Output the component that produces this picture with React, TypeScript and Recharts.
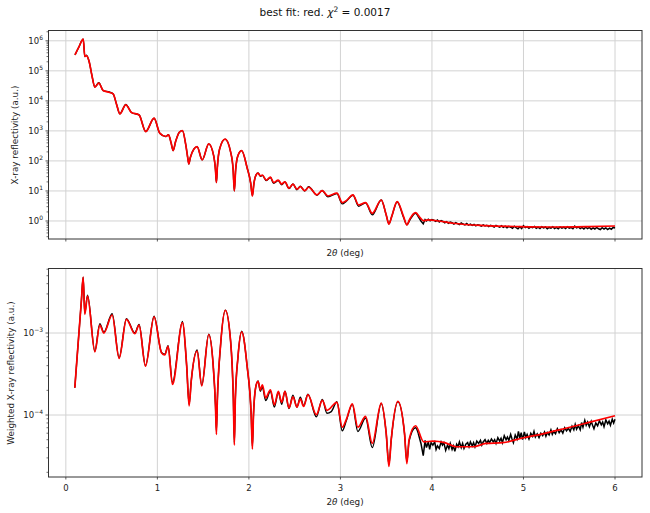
import React from 'react';
import { LineChart, Line, XAxis, YAxis, CartesianGrid } from 'recharts';

const FONT = '"DejaVu Sans", Verdana, sans-serif';
const PLOT_LEFT = 48;
const NOISE_START = 3.85;

// shared x axis (2theta, deg)
const xTicks = [0, 1, 2, 3, 4, 5, 6];
const xDomain = [-0.195, 6.295];

// log axes
const topMajorTicks = [1, 10, 100, 1e3, 1e4, 1e5, 1e6];
const topDecades = [0.1, 1, 10, 100, 1e3, 1e4, 1e5, 1e6];
const topDomain = [0.251, 2.29e6];
const bottomMajorTicks = [1e-4, 1e-3];
const bottomDecades = [1e-5, 1e-4, 1e-3];
const bottomDomain = [1.754e-5, 6.21e-3];
const minorSteps = [2, 3, 4, 5, 6, 7, 8, 9];

// top panel: reflectivity, fit (red)
const topFit: [number, number][] = [
  [0.1, 3.4e5], [0.14, 6.0e5], [0.19, 1.14e6], [0.207, 3.0e5], [0.225, 3.2e5], [0.255, 2.0e5],
  [0.285, 7.0e4], [0.317, 2.86e4], [0.36, 3.9e4], [0.408, 2.2e4], [0.48, 1.9e4], [0.517, 1.7e4],
  [0.555, 7.5e3], [0.59, 3.7e3], [0.655, 7.4e3], [0.717, 4.1e3], [0.8, 3.4e3], [0.873, 950],
  [0.964, 2650], [1.026, 840], [1.092, 650], [1.121, 740], [1.15, 400], [1.172, 220], [1.2, 450],
  [1.24, 900], [1.274, 1020], [1.31, 350], [1.335, 110], [1.343, 79], [1.36, 130], [1.4, 250],
  [1.434, 300], [1.49, 108], [1.561, 370], [1.615, 150], [1.635, 50], [1.645, 19], [1.655, 60],
  [1.68, 250], [1.74, 530], [1.8, 200], [1.828, 50], [1.841, 10], [1.855, 50], [1.88, 150],
  [1.921, 220], [1.98, 60], [2.02, 18], [2.038, 6.8], [2.055, 18], [2.08, 35], [2.1, 39],
  [2.125, 32], [2.147, 34], [2.19, 23], [2.235, 29], [2.27, 19], [2.32, 23], [2.358, 17],
  [2.394, 20], [2.438, 12.3], [2.481, 17], [2.525, 11.4], [2.562, 13.9], [2.61, 10.2],
  [2.653, 13.3], [2.744, 7.4], [2.8, 10.2], [2.864, 6.8], [2.962, 8.4], [3.02, 4.1], [3.064, 4.75],
  [3.137, 7.4], [3.2, 3.4], [3.275, 4.1], [3.348, 1.8], [3.446, 5.0], [3.5, 1.6], [3.53, 0.79],
  [3.56, 1.4], [3.62, 4.4], [3.69, 1.4], [3.726, 0.74], [3.76, 1.2], [3.821, 1.9], [3.87, 1.3],
  [3.908, 1.02], [3.955, 1.08], [4.075, 1.0], [4.23, 0.84], [4.59, 0.7], [4.96, 0.65],
  [5.32, 0.63], [5.7, 0.65], [6.0, 0.68],
];

// top panel: measured data (black)
const topData: [number, number][] = [
  [0.1, 3.4e5], [0.14, 6.0e5], [0.19, 1.14e6], [0.207, 3.0e5], [0.225, 3.3e5], [0.255, 2.0e5],
  [0.285, 7.0e4], [0.317, 2.9e4], [0.36, 4.0e4], [0.408, 2.2e4], [0.48, 1.95e4], [0.517, 1.7e4],
  [0.555, 7.5e3], [0.59, 3.7e3], [0.655, 7.6e3], [0.717, 4.1e3], [0.8, 3.4e3], [0.873, 950],
  [0.964, 2650], [1.026, 840], [1.092, 650], [1.121, 740], [1.15, 400], [1.172, 220], [1.2, 450],
  [1.24, 900], [1.274, 1020], [1.31, 350], [1.335, 110], [1.343, 79], [1.36, 130], [1.4, 250],
  [1.434, 300], [1.49, 108], [1.561, 370], [1.615, 150], [1.635, 50], [1.645, 19], [1.655, 60],
  [1.68, 250], [1.74, 530], [1.8, 200], [1.828, 50], [1.841, 10], [1.855, 50], [1.88, 150],
  [1.921, 220], [1.98, 60], [2.02, 18], [2.038, 7.0], [2.055, 18], [2.08, 35], [2.1, 40],
  [2.125, 31], [2.147, 33], [2.19, 22], [2.235, 28], [2.27, 18], [2.32, 22], [2.358, 16],
  [2.394, 20], [2.438, 12], [2.481, 17], [2.525, 11], [2.562, 14.5], [2.61, 10], [2.653, 13.8],
  [2.744, 7.2], [2.8, 10.4], [2.864, 6.4], [2.962, 8.2], [3.02, 3.7], [3.064, 4.6], [3.137, 7.2],
  [3.2, 3.1], [3.275, 4.0], [3.348, 1.6], [3.446, 5.0], [3.5, 1.6], [3.53, 0.8], [3.56, 1.4],
  [3.62, 4.3], [3.69, 1.3], [3.726, 0.75], [3.76, 1.1], [3.821, 1.8], [3.85, 1.4], [3.88, 1.0],
  [3.905, 0.8], [3.925, 1.12], [3.94, 1.0], [3.96, 1.14], [3.98, 1.02], [4.0, 1.12], [4.02, 1.06],
  [4.04, 0.97], [4.06, 1.07], [4.08, 0.93], [4.1, 1.02], [4.12, 0.96], [4.14, 0.87], [4.16, 0.95],
  [4.18, 0.84], [4.2, 0.92], [4.22, 0.87], [4.24, 0.79], [4.26, 0.88], [4.28, 0.82], [4.3, 0.76],
  [4.32, 0.86], [4.34, 0.79], [4.36, 0.74], [4.38, 0.82], [4.4, 0.73], [4.42, 0.79], [4.44, 0.71],
  [4.46, 0.77], [4.48, 0.69], [4.5, 0.75], [4.52, 0.72], [4.54, 0.67], [4.56, 0.74], [4.58, 0.68],
  [4.6, 0.72], [4.62, 0.65], [4.64, 0.71], [4.66, 0.68], [4.68, 0.63], [4.7, 0.71], [4.72, 0.66],
  [4.74, 0.62], [4.76, 0.69], [4.78, 0.61], [4.8, 0.67], [4.82, 0.59], [4.84, 0.66], [4.86, 0.62],
  [4.88, 0.57], [4.9, 0.67], [4.92, 0.6], [4.94, 0.55], [4.96, 0.64], [4.98, 0.56], [5.0, 0.7],
  [5.02, 0.6], [5.04, 0.65], [5.06, 0.57], [5.08, 0.63], [5.1, 0.6], [5.12, 0.66], [5.14, 0.57],
  [5.16, 0.62], [5.18, 0.56], [5.2, 0.64], [5.22, 0.59], [5.24, 0.63], [5.26, 0.55], [5.28, 0.61],
  [5.3, 0.58], [5.32, 0.64], [5.34, 0.56], [5.36, 0.61], [5.38, 0.55], [5.4, 0.63], [5.42, 0.58],
  [5.44, 0.62], [5.46, 0.56], [5.48, 0.64], [5.5, 0.58], [5.52, 0.61], [5.54, 0.55], [5.56, 0.67],
  [5.58, 0.59], [5.6, 0.63], [5.62, 0.56], [5.64, 0.61], [5.66, 0.54], [5.68, 0.62], [5.7, 0.56],
  [5.72, 0.61], [5.74, 0.53], [5.76, 0.59], [5.78, 0.54], [5.8, 0.61], [5.82, 0.55], [5.84, 0.52],
  [5.86, 0.6], [5.88, 0.54], [5.9, 0.59], [5.92, 0.52], [5.94, 0.58], [5.96, 0.53], [5.98, 0.61],
  [6.0, 0.58],
];

// bottom panel: weighted reflectivity, fit (red)
const bottomFit: [number, number][] = [
  [0.098, 2.15e-4], [0.12, 4.6e-4], [0.15, 1.27e-3], [0.17, 2.5e-3], [0.189, 4.8e-3], [0.207, 1.69e-3],
  [0.237, 2.82e-3], [0.317, 5.9e-4], [0.371, 1.25e-3], [0.415, 1.0e-3], [0.506, 1.66e-3],
  [0.582, 4.9e-4], [0.662, 1.47e-3], [0.753, 9.8e-4], [0.8, 1.25e-3], [0.87, 3.95e-4],
  [0.964, 1.57e-3], [1.045, 5.75e-4], [1.081, 5.4e-4], [1.117, 6.9e-4], [1.165, 2.36e-4],
  [1.274, 1.34e-3], [1.32, 4.0e-4], [1.347, 1.29e-4], [1.37, 2.6e-4], [1.434, 6.0e-4],
  [1.485, 2.26e-4], [1.561, 9.6e-4], [1.61, 4.0e-4], [1.635, 1.3e-4], [1.645, 5.8e-5],
  [1.655, 1.5e-4], [1.69, 7.0e-4], [1.743, 1.89e-3], [1.8, 8.0e-4], [1.83, 1.6e-4], [1.841, 4.3e-5],
  [1.852, 1.6e-4], [1.88, 5.0e-4], [1.921, 1.03e-3], [1.98, 4.0e-4], [2.025, 1.0e-4],
  [2.038, 3.85e-5], [2.05, 1.0e-4], [2.075, 2.2e-4], [2.1, 2.57e-4], [2.125, 2.03e-4],
  [2.147, 2.34e-4], [2.183, 1.62e-4], [2.235, 2.03e-4], [2.278, 1.33e-4], [2.322, 1.94e-4],
  [2.358, 1.43e-4], [2.394, 1.94e-4], [2.438, 1.22e-4], [2.481, 1.66e-4], [2.525, 1.25e-4],
  [2.562, 1.57e-4], [2.598, 1.27e-4], [2.645, 1.77e-4], [2.737, 1.01e-4], [2.802, 1.51e-4],
  [2.853, 1.14e-4], [2.962, 1.43e-4], [3.02, 7.1e-5], [3.064, 8.8e-5], [3.13, 1.37e-4],
  [3.19, 7.1e-5], [3.275, 9.6e-5], [3.348, 4.5e-5], [3.446, 1.4e-4], [3.5, 6.0e-5], [3.53, 2.36e-5],
  [3.555, 5.0e-5], [3.628, 1.47e-4], [3.7, 6.0e-5], [3.726, 2.55e-5], [3.75, 5.0e-5],
  [3.821, 7.4e-5], [3.91, 4.7e-5], [4.01, 4.8e-5], [4.14, 4.6e-5], [4.265, 4.1e-5], [4.45, 4.1e-5],
  [4.59, 4.5e-5], [4.775, 4.6e-5], [4.99, 5.25e-5], [5.21, 5.9e-5], [5.43, 6.75e-5],
  [5.684, 7.95e-5], [6.0, 9.8e-5],
];

// bottom panel: weighted measured data (black)
const bottomData: [number, number][] = [
  [0.098, 2.15e-4], [0.12, 4.6e-4], [0.15, 1.27e-3], [0.17, 2.5e-3], [0.189, 4.8e-3], [0.207, 1.75e-3],
  [0.237, 2.9e-3], [0.317, 6.0e-4], [0.371, 1.3e-3], [0.415, 1.02e-3], [0.506, 1.72e-3],
  [0.582, 5.0e-4], [0.662, 1.5e-3], [0.753, 1.0e-3], [0.8, 1.27e-3], [0.87, 4.0e-4],
  [0.964, 1.6e-3], [1.045, 5.8e-4], [1.081, 5.5e-4], [1.117, 7.0e-4], [1.165, 2.5e-4],
  [1.274, 1.38e-3], [1.32, 4.0e-4], [1.347, 1.35e-4], [1.37, 2.6e-4], [1.434, 6.2e-4],
  [1.485, 2.3e-4], [1.561, 9.7e-4], [1.61, 4.0e-4], [1.635, 1.3e-4], [1.645, 6.5e-5],
  [1.655, 1.5e-4], [1.69, 7.0e-4], [1.743, 1.9e-3], [1.8, 8.0e-4], [1.83, 1.6e-4], [1.841, 4.6e-5],
  [1.852, 1.6e-4], [1.88, 5.0e-4], [1.921, 1.05e-3], [1.98, 4.0e-4], [2.025, 1.0e-4],
  [2.038, 4.2e-5], [2.05, 1.0e-4], [2.075, 2.2e-4], [2.1, 2.6e-4], [2.125, 1.95e-4],
  [2.147, 2.2e-4], [2.183, 1.5e-4], [2.235, 1.95e-4], [2.278, 1.25e-4], [2.322, 1.9e-4],
  [2.358, 1.35e-4], [2.394, 1.95e-4], [2.438, 1.2e-4], [2.481, 1.75e-4], [2.525, 1.25e-4],
  [2.562, 1.65e-4], [2.598, 1.3e-4], [2.645, 1.8e-4], [2.737, 9.5e-5], [2.802, 1.55e-4],
  [2.853, 1.05e-4], [2.9, 1.1e-4], [2.962, 1.45e-4], [3.02, 6.4e-5], [3.064, 8.5e-5],
  [3.13, 1.35e-4], [3.19, 6.3e-5], [3.275, 9.2e-5], [3.348, 4.0e-5], [3.446, 1.38e-4],
  [3.5, 6.0e-5], [3.53, 2.5e-5], [3.555, 5.0e-5], [3.628, 1.45e-4], [3.7, 6.0e-5],
  [3.726, 2.7e-5], [3.75, 4.8e-5], [3.821, 7.0e-5], [3.85, 6.0e-5], [3.88, 4.5e-5],
  [3.905, 3.2e-5], [3.925, 4.9e-5], [3.94, 4.0e-5], [3.96, 4.7e-5], [3.975, 3.8e-5], [3.99, 4.6e-5],
  [4.01, 4.3e-5], [4.03, 4.7e-5], [4.045, 3.8e-5], [4.06, 4.2e-5], [4.08, 3.9e-5], [4.1, 4.7e-5],
  [4.115, 4.3e-5], [4.13, 4.6e-5], [4.15, 3.7e-5], [4.17, 4.3e-5], [4.185, 3.9e-5], [4.2, 4.5e-5],
  [4.22, 3.8e-5], [4.235, 4.2e-5], [4.25, 3.6e-5], [4.27, 4.4e-5], [4.285, 4.1e-5], [4.3, 4.7e-5],
  [4.32, 4.0e-5], [4.335, 4.5e-5], [4.35, 3.9e-5], [4.37, 4.4e-5], [4.39, 4.6e-5], [4.405, 4.1e-5],
  [4.42, 4.7e-5], [4.44, 4.2e-5], [4.455, 4.6e-5], [4.47, 4.1e-5], [4.49, 4.8e-5], [4.51, 4.5e-5],
  [4.53, 4.9e-5], [4.545, 4.3e-5], [4.56, 4.7e-5], [4.58, 5.0e-5], [4.6, 4.5e-5], [4.615, 4.9e-5],
  [4.63, 4.6e-5], [4.65, 5.1e-5], [4.67, 4.7e-5], [4.685, 5.0e-5], [4.7, 4.5e-5], [4.72, 5.3e-5],
  [4.74, 4.8e-5], [4.755, 5.2e-5], [4.77, 4.6e-5], [4.79, 5.6e-5], [4.81, 5.0e-5], [4.825, 5.4e-5],
  [4.84, 4.9e-5], [4.86, 5.8e-5], [4.875, 5.1e-5], [4.89, 4.6e-5], [4.91, 5.7e-5], [4.93, 5.1e-5],
  [4.945, 6.3e-5], [4.96, 5.2e-5], [4.975, 6.1e-5], [4.99, 5.0e-5], [5.01, 6.2e-5], [5.025, 5.3e-5],
  [5.04, 5.8e-5], [5.06, 5.1e-5], [5.08, 6.0e-5], [5.1, 5.5e-5], [5.115, 6.3e-5], [5.13, 5.4e-5],
  [5.15, 5.9e-5], [5.17, 5.3e-5], [5.19, 6.0e-5], [5.21, 5.6e-5], [5.23, 6.2e-5], [5.245, 5.5e-5],
  [5.26, 6.1e-5], [5.28, 5.7e-5], [5.3, 6.6e-5], [5.315, 5.8e-5], [5.33, 6.3e-5], [5.35, 5.9e-5],
  [5.37, 6.8e-5], [5.39, 6.1e-5], [5.41, 6.6e-5], [5.43, 6.0e-5], [5.45, 7.0e-5], [5.47, 6.4e-5],
  [5.49, 6.9e-5], [5.51, 6.3e-5], [5.53, 7.3e-5], [5.55, 6.6e-5], [5.565, 7.7e-5], [5.58, 6.7e-5],
  [5.6, 7.4e-5], [5.62, 6.6e-5], [5.635, 8.1e-5], [5.65, 7.1e-5], [5.67, 8.6e-5], [5.685, 7.5e-5],
  [5.7, 8.2e-5], [5.72, 7.2e-5], [5.74, 8.4e-5], [5.755, 7.5e-5], [5.77, 6.8e-5], [5.79, 8.0e-5],
  [5.81, 7.4e-5], [5.83, 8.5e-5], [5.85, 7.6e-5], [5.865, 8.2e-5], [5.88, 7.2e-5], [5.9, 8.7e-5],
  [5.92, 7.8e-5], [5.935, 8.4e-5], [5.95, 7.5e-5], [5.97, 8.9e-5], [5.985, 8.0e-5], [6.0, 8.9e-5],
];

const toRows = (pts: [number, number][]) => pts.map(([x, y]) => ({ x, y }));
const smoothPart = (pts: [number, number][]) => toRows(pts.filter(([x]) => x <= NOISE_START));
const noisyPart = (pts: [number, number][]) => toRows(pts.filter(([x]) => x >= NOISE_START));

const buildTicks = (decades: number[], domain: number[]) => {
  const out: number[] = [];
  decades.forEach((d) => {
    out.push(d);
    minorSteps.forEach((m) => out.push(d * m));
  });
  return out.filter((v) => v >= domain[0] && v <= domain[1]).sort((a, b) => a - b);
};

const supDigits = (e: number) => (e < 0 ? '\u2212' + Math.abs(e) : String(e));

const LogTick = (props: any) => {
  const { y, payload } = props;
  const v = payload.value;
  const lg = Math.log10(v);
  const e = Math.round(lg);
  const major = Math.abs(lg - e) < 1e-6;
  if (!major) {
    return <line x1={PLOT_LEFT - 1.5} x2={PLOT_LEFT} y1={y} y2={y} stroke="#333" strokeWidth={0.7} />;
  }
  return (
    <g>
      <line x1={PLOT_LEFT - 2.5} x2={PLOT_LEFT} y1={y} y2={y} stroke="#333" strokeWidth={0.8} />
      <text x={PLOT_LEFT - 5} y={y + 3} textAnchor="end" fontFamily={FONT} fontSize={8.5} fill="#222">
        <tspan>10</tspan>
        <tspan dy={-4} fontSize={6}>{supDigits(e)}</tspan>
      </text>
    </g>
  );
};

const Panel: React.FC<any> = ({ height, marginTop, xAxisHeight, showXLabels, domain, decades, majors, fit, data }) => (
  <LineChart width={650} height={height} margin={{ top: marginTop, right: 8, bottom: 0, left: 0 }}>
    <CartesianGrid stroke="#d2d2d2" strokeWidth={1} horizontalValues={majors} verticalValues={xTicks} />
    <XAxis
      type="number"
      dataKey="x"
      domain={xDomain}
      ticks={xTicks}
      allowDataOverflow
      height={xAxisHeight}
      axisLine={false}
      tickSize={2.5}
      tickMargin={5.5}
      tickLine={{ stroke: '#333', strokeWidth: 0.8 }}
      tick={{ fontFamily: FONT, fontSize: 8.5, fill: '#222' }}
      tickFormatter={(v: number) => (showXLabels ? String(v) : '')}
      interval={0}
    />
    <YAxis
      type="number"
      scale="log"
      domain={domain}
      allowDataOverflow
      ticks={buildTicks(decades, domain)}
      interval={0}
      width={PLOT_LEFT}
      axisLine={false}
      tickLine={false}
      tick={<LogTick />}
    />
    <Line type="monotone" dataKey="y" data={smoothPart(data)} stroke="#000" strokeWidth={1.4} dot={false} isAnimationActive={false} />
    <Line type="linear" dataKey="y" data={noisyPart(data)} stroke="#000" strokeWidth={1.5} dot={false} isAnimationActive={false} />
    <Line type="monotone" dataKey="y" data={toRows(fit)} stroke="#ff0000" strokeWidth={1.7} dot={false} isAnimationActive={false} />
  </LineChart>
);

export default function App() {
  return (
    <div style={{ position: 'absolute', left: 0, top: 0, width: 650, height: 513, background: '#fff' }}>
      <div style={{ position: 'absolute', left: 0, top: 0 }}>
        <Panel
          height={265}
          marginTop={30}
          xAxisHeight={26}
          showXLabels={false}
          domain={topDomain}
          decades={topDecades}
          majors={topMajorTicks}
          fit={topFit}
          data={topData}
        />
      </div>
      <div style={{ position: 'absolute', left: 0, top: 260 }}>
        <Panel
          height={253}
          marginTop={8}
          xAxisHeight={36}
          showXLabels={true}
          domain={bottomDomain}
          decades={bottomDecades}
          majors={bottomMajorTicks}
          fit={bottomFit}
          data={bottomData}
        />
      </div>
      <svg
        width={650}
        height={513}
        style={{ position: 'absolute', left: 0, top: 0, pointerEvents: 'none' }}
        fontFamily={FONT}
      >
        <rect x={48.5} y={30.5} width={593.5} height={208.5} fill="none" stroke="#333" strokeWidth={1} />
        <rect x={48.5} y={268.5} width={593.5} height={208.5} fill="none" stroke="#333" strokeWidth={1} />
        <text x={325} y={16} textAnchor="middle" fontSize={10.5} fill="#111">
          <tspan>best fit: red. </tspan>
          <tspan fontStyle="italic">χ</tspan>
          <tspan dy={-4.5} fontSize={7.5}>2</tspan>
          <tspan dy={4.5}> = 0.0017</tspan>
        </text>
        <text x={345} y={256} textAnchor="middle" fontSize={8.8} fill="#222">
          <tspan>2</tspan>
          <tspan fontStyle="italic">θ</tspan>
          <tspan> (deg)</tspan>
        </text>
        <text x={345} y={505} textAnchor="middle" fontSize={8.8} fill="#222">
          <tspan>2</tspan>
          <tspan fontStyle="italic">θ</tspan>
          <tspan> (deg)</tspan>
        </text>
        <text x={18} y={135} textAnchor="middle" fontSize={8.8} fill="#222" transform="rotate(-90 18 135)">
          X-ray reflectivity (a.u.)
        </text>
        <text x={14} y={373} textAnchor="middle" fontSize={8.8} fill="#222" transform="rotate(-90 14 373)">
          Weighted X-ray reflectivity (a.u.)
        </text>
      </svg>
    </div>
  );
}
